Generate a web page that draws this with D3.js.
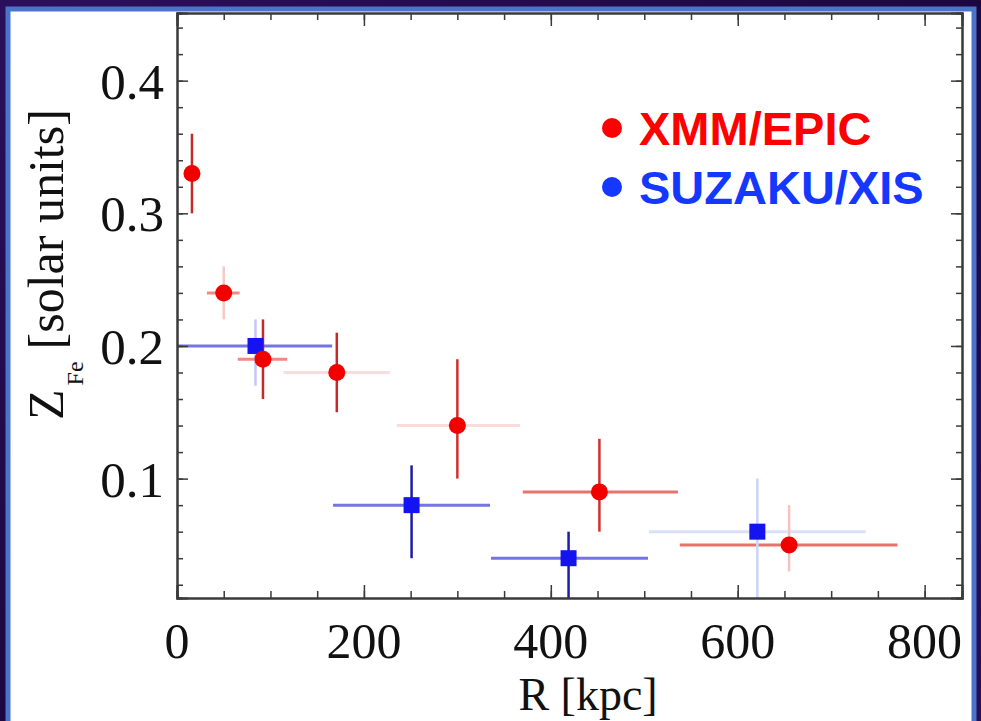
<!DOCTYPE html>
<html>
<head>
<meta charset="utf-8">
<script src="https://cdn.jsdelivr.net/npm/d3@7"></script>
<style>
  html, body { margin: 0; padding: 0; background: #220b45; }
  svg { display: block; }
</style>
</head>
<body>
<div id="chart"></div>
<script>

// XMM/EPIC points
let xmmR = [16, 50, 92, 171, 300, 452, 655]
let xmmRMin = [16, 32, 65, 114, 235, 370, 538]
let xmmRMax = [16, 67, 118, 228, 367, 536, 771]
let xmmZ = [0.33, 0.24, 0.19, 0.18, 0.14, 0.09, 0.05]
let xmmZMin = [0.30, 0.22, 0.16, 0.15, 0.10, 0.06, 0.03]
let xmmZMax = [0.36, 0.26, 0.22, 0.21, 0.19, 0.13, 0.08]

// SUZAKU/XIS points
let suzR = [84, 251, 419, 621]
let suzRMin = [0, 167, 336, 505]
let suzRMax = [166, 335, 504, 737]
let suzZ = [0.20, 0.08, 0.04, 0.06]
let suzZMin = [0.17, 0.04, 0.0, 0.0]
let suzZMax = [0.22, 0.11, 0.06, 0.10]

let xTicks = [0, 200, 400, 600, 800]
let yTicks = [0.1, 0.2, 0.3, 0.4]
let legendNames = ['XMM/EPIC', 'SUZAKU/XIS']


function drawChart(){

	let width = 981
	let height = 721

	let svg = d3.select('#chart')
		.append('svg')
		.attr('width', width)
		.attr('height', height)

	// dark purple backdrop
	let defs = svg.append('defs')
	let grad = defs.append('linearGradient')
		.attr('id', 'bg')
		.attr('x1', 0).attr('y1', 0).attr('x2', 1).attr('y2', 1)
	grad.append('stop').attr('offset', '0%').attr('stop-color', '#2c0f5c')
	grad.append('stop').attr('offset', '50%').attr('stop-color', '#1c0840')
	grad.append('stop').attr('offset', '100%').attr('stop-color', '#2a0d55')

	svg.append('rect')
		.attr('width', width)
		.attr('height', height)
		.attr('fill', 'url(#bg)')

	svg.append('rect')
		.attr('x', 8)
		.attr('y', 9)
		.attr('width', 966)
		.attr('height', 730)
		.attr('fill', '#ffffff')
		.attr('stroke', '#4a74cc')
		.attr('stroke-width', 5)

	let margin = ({top: 13, right: 19, bottom: 123, left: 177})

	let x = d3.scaleLinear()
		.domain([0, 840])
		.range([margin.left, width - margin.right])

	let y = d3.scaleLinear()
		.domain([0.01, 0.451])
		.range([height - margin.bottom, margin.top])

	let plot = svg.append('g')

	let clip = defs.append('clipPath').attr('id', 'plotclip')
	clip.append('rect')
		.attr('x', margin.left)
		.attr('y', margin.top)
		.attr('width', width - margin.left - margin.right)
		.attr('height', height - margin.top - margin.bottom)

	let marks = plot.append('g').attr('clip-path', 'url(#plotclip)')

	// error bar shades
	let xmmVShade = ['#c42a2a', '#f6c8c8', '#c42a2a', '#c42a2a', '#d23030', '#d23030', '#f5c2c2']
	let xmmHShade = ['none', '#ef8a80', '#ef8a80', '#fbdcdc', '#fbdcdc', '#e8736c', '#e8736c']
	let suzVShade = ['#c4c6f6', '#1c1ca8', '#1c1ca8', '#ccd4f8']
	let suzHShade = ['#7474e2', '#7474e2', '#7474e2', '#dae0fa']

	// horizontal bars first, then vertical
	marks.selectAll('.xmmH')
		.data(xmmR)
		.enter()
		.append('line')
		.attr('x1', (d, i) => x(xmmRMin[i]))
		.attr('x2', (d, i) => x(xmmRMax[i]))
		.attr('y1', (d, i) => y(xmmZ[i]))
		.attr('y2', (d, i) => y(xmmZ[i]))
		.attr('stroke', (d, i) => xmmHShade[i])
		.attr('stroke-width', 3)

	marks.selectAll('.suzH')
		.data(suzR)
		.enter()
		.append('line')
		.attr('x1', (d, i) => x(suzRMin[i]))
		.attr('x2', (d, i) => x(suzRMax[i]))
		.attr('y1', (d, i) => y(suzZ[i]))
		.attr('y2', (d, i) => y(suzZ[i]))
		.attr('stroke', (d, i) => suzHShade[i])
		.attr('stroke-width', 3)

	marks.selectAll('.xmmV')
		.data(xmmR)
		.enter()
		.append('line')
		.attr('x1', d => x(d))
		.attr('x2', d => x(d))
		.attr('y1', (d, i) => y(xmmZMin[i]))
		.attr('y2', (d, i) => y(xmmZMax[i]))
		.attr('stroke', (d, i) => xmmVShade[i])
		.attr('stroke-width', 2.5)

	marks.selectAll('.suzV')
		.data(suzR)
		.enter()
		.append('line')
		.attr('x1', d => x(d))
		.attr('x2', d => x(d))
		.attr('y1', (d, i) => y(suzZMin[i]))
		.attr('y2', (d, i) => y(suzZMax[i]))
		.attr('stroke', (d, i) => suzVShade[i])
		.attr('stroke-width', 2.5)

	marks.selectAll('.suzPt')
		.data(suzR)
		.enter()
		.append('rect')
		.attr('x', d => x(d) - 8)
		.attr('y', (d, i) => y(suzZ[i]) - 8)
		.attr('width', 16)
		.attr('height', 16)
		.attr('fill', '#1414f0')

	marks.selectAll('.xmmPt')
		.data(xmmR)
		.enter()
		.append('circle')
		.attr('cx', d => x(d))
		.attr('cy', (d, i) => y(xmmZ[i]))
		.attr('r', 8.5)
		.attr('fill', '#f20000')

	// frame with inward ticks on all four sides
	let axisColor = '#3a3a3a'
	let xMinor = d3.range(0, 841, 50)
	let yMinor = d3.range(0.02, 0.451, 0.02)

	plot.append('g')
		.attr('transform', `translate(0,${height - margin.bottom})`)
		.call(d3.axisTop(x).tickValues(xMinor).tickSize(7).tickFormat(''))
	plot.append('g')
		.attr('transform', `translate(0,${margin.top})`)
		.call(d3.axisBottom(x).tickValues(xMinor).tickSize(7).tickFormat(''))
	plot.append('g')
		.attr('transform', `translate(${margin.left},0)`)
		.call(d3.axisRight(y).tickValues(yMinor).tickSize(6).tickFormat(''))
	plot.append('g')
		.attr('transform', `translate(${width - margin.right},0)`)
		.call(d3.axisLeft(y).tickValues(yMinor).tickSize(6).tickFormat(''))

	plot.append('g')
		.attr('transform', `translate(0,${height - margin.bottom})`)
		.call(d3.axisTop(x).tickValues(xTicks).tickSize(13).tickFormat(''))
	plot.append('g')
		.attr('transform', `translate(0,${margin.top})`)
		.call(d3.axisBottom(x).tickValues(xTicks).tickSize(13).tickFormat(''))
	plot.append('g')
		.attr('transform', `translate(${margin.left},0)`)
		.call(d3.axisRight(y).tickValues(yTicks).tickSize(11).tickFormat(''))
	plot.append('g')
		.attr('transform', `translate(${width - margin.right},0)`)
		.call(d3.axisLeft(y).tickValues(yTicks).tickSize(11).tickFormat(''))

	plot.selectAll('.domain')
		.attr('stroke', axisColor)
		.attr('stroke-width', 2)
	plot.selectAll('.tick line')
		.attr('stroke', axisColor)
		.attr('stroke-width', 1.5)

	let serif = 'Liberation Serif, Times New Roman, serif'

	// tick labels
	plot.selectAll('.xlab')
		.data(xTicks)
		.enter()
		.append('text')
		.attr('x', d => x(d))
		.attr('y', 658)
		.attr('text-anchor', 'middle')
		.attr('font-family', serif)
		.attr('font-size', 50)
		.attr('fill', '#111')
		.text(d => d)

	plot.selectAll('.ylab')
		.data(yTicks)
		.enter()
		.append('text')
		.attr('x', 164)
		.attr('y', d => y(d) + 18)
		.attr('text-anchor', 'end')
		.attr('font-family', serif)
		.attr('font-size', 51)
		.attr('fill', '#111')
		.text(d => d.toFixed(1))

	svg.append('text')
		.attr('x', 588)
		.attr('y', 710)
		.attr('text-anchor', 'middle')
		.attr('font-family', serif)
		.attr('font-size', 46)
		.attr('fill', '#111')
		.text('R [kpc]')

	let ylab = svg.append('text')
		.attr('transform', 'translate(63,420) rotate(-90)')
		.attr('font-family', serif)
		.attr('font-size', 50)
		.attr('fill', '#111')
	ylab.append('tspan')
		.text('Z')
	ylab.append('tspan')
		.attr('font-size', 24)
		.attr('dx', 4)
		.attr('dy', 20)
		.text('Fe')
	ylab.append('tspan')
		.attr('dy', -20)
		.attr('dx', 12)
		.text('[solar units]')

	// legend
	let legendColors = ['#ff0000', '#1438ff']
	let legend = svg.selectAll('.legend')
		.data(legendNames)
		.enter()
		.append('g')
		.attr('transform', (d, i) => `translate(612,${128 + i * 59})`)

	legend.append('circle')
		.attr('r', 10)
		.attr('fill', (d, i) => legendColors[i])

	legend.append('text')
		.attr('x', 27)
		.attr('y', 17)
		.attr('font-family', 'Liberation Sans, Arial, sans-serif')
		.attr('font-weight', 'bold')
		.attr('font-size', 47)
		.attr('fill', (d, i) => legendColors[i])
		.text(d => d)
}

drawChart()

</script>
</body>
</html>
